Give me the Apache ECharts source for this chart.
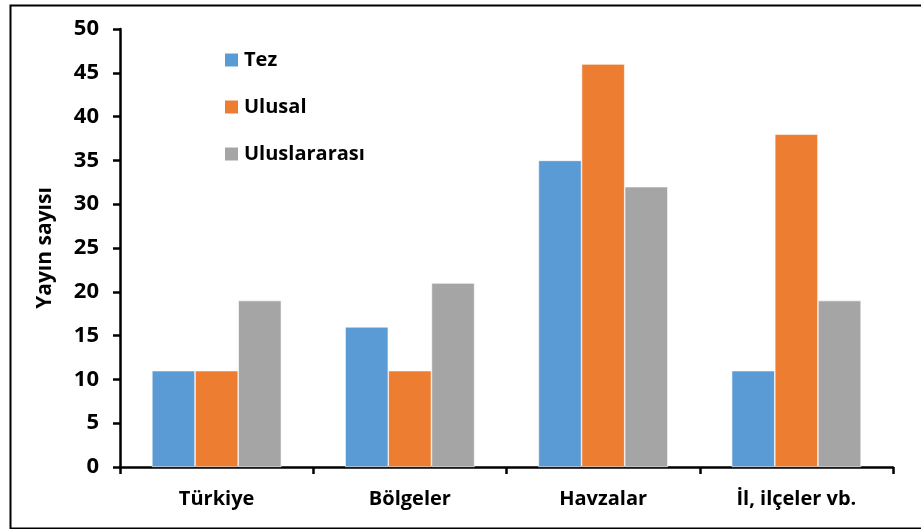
<!DOCTYPE html>
<html>
<head>
<meta charset="utf-8">
<script src="https://cdn.jsdelivr.net/npm/echarts@6/dist/echarts.min.js"></script>
<style>
html,body{margin:0;padding:0;background:#fff;}
#c{width:921px;height:529px;}
</style>
</head>
<body>
<div id="c"></div>
<script>
var categories = ['Türkiye', 'Bölgeler', 'Havzalar', 'İl, ilçeler vb.'];
var tez = [11, 16, 35, 11];
var ulusal = [11, 11, 46, 38];
var uluslararasi = [19, 21, 32, 19];
var seriesNames = ['Tez', 'Ulusal', 'Uluslararası'];
var yTicks = [0, 5, 10, 15, 20, 25, 30, 35, 40, 45, 50];

var FONT = 'Open Sans';
var chart = echarts.init(document.getElementById('c'));
function bar(name, data, color) {
  return {
    name: name, type: 'bar', data: data, barGap: '0%', barCategoryGap: '33%',
    itemStyle: { color: color, borderColor: '#ffffff', borderWidth: 0.6 }
  };
}
chart.setOption({
  animation: false,
  backgroundColor: '#fff',
  graphic: [{
    type: 'rect', left: 8, top: 3,
    shape: { x: 0, y: 0, width: 940, height: 523 },
    style: { fill: 'none', stroke: '#000', lineWidth: 2 }, z: 100
  }],
  grid: { left: 120, right: 28, top: 29, bottom: 62, containLabel: false },
  legend: {
    orient: 'vertical', left: 218, top: 45, itemWidth: 15, itemHeight: 15, itemGap: 27,
    icon: 'rect',
    textStyle: { fontFamily: FONT, fontWeight: 'bold', fontSize: 20, color: '#000', padding: [0, 0, 0, 0] },
    data: seriesNames
  },
  xAxis: {
    type: 'category', data: categories,
    axisLine: { lineStyle: { color: '#000', width: 2.5 } },
    axisTick: { show: true, length: 7, lineStyle: { color: '#000', width: 2.5 } },
    axisLabel: { fontFamily: FONT, fontWeight: 'bold', fontSize: 20, color: '#000', margin: 22 }
  },
  yAxis: {
    type: 'value', min: yTicks[0], max: yTicks[yTicks.length - 1], interval: 5,
    name: 'Yayın sayısı', nameLocation: 'middle', nameGap: 64, nameRotate: 90,
    nameTextStyle: { fontFamily: FONT, fontWeight: 'bold', fontSize: 21, color: '#000' },
    axisLine: { show: true, lineStyle: { color: '#000', width: 2.5 } },
    axisTick: { show: true, length: 7, lineStyle: { color: '#000', width: 2.5 } },
    splitLine: { show: false },
    axisLabel: { fontFamily: FONT, fontWeight: 'bold', fontSize: 22, color: '#000', margin: 21 }
  },
  series: [
    bar(seriesNames[0], tez, '#5B9BD5'),
    bar(seriesNames[1], ulusal, '#ED7D31'),
    bar(seriesNames[2], uluslararasi, '#A5A5A5')
  ]
});
</script>
</body>
</html>
